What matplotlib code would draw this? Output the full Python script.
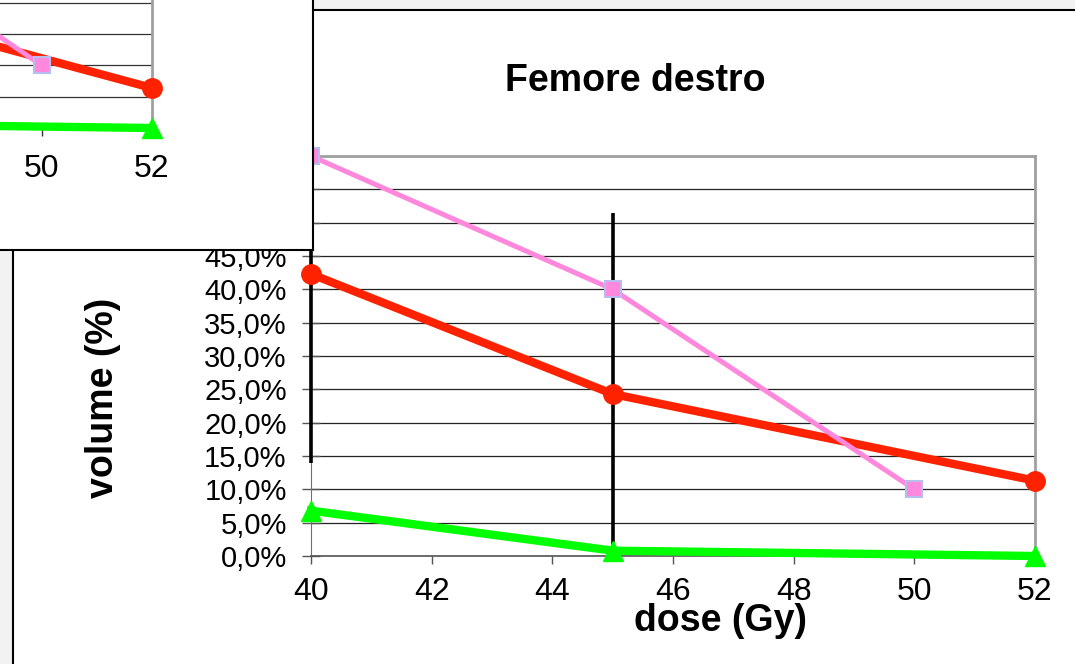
import matplotlib.pyplot as plt
from matplotlib.patches import Rectangle
from matplotlib.lines import Line2D
from matplotlib.ticker import FuncFormatter, MultipleLocator

plt.rcParams['font.family'] = ['Liberation Sans', 'DejaVu Sans']

# main chart: Femore destro
dose_red = [40, 45, 52]
vol_red = [42.3, 24.3, 11.3]
dose_pink = [40, 45, 50]
vol_pink = [60.0, 40.0, 10.0]
dose_green = [40, 45, 52]
vol_green = [6.8, 0.8, 0.0]
# vertical bars drawn in the plot
bar_x = [40, 45]
bar_low = [14.0, 0.0]
bar_high = [60.0, 51.5]

# overlapping piece of the other chart (top left)
inset_dose_red = [45, 52]
inset_vol_red = [23.0, 6.4]
inset_dose_pink = [45, 50]
inset_vol_pink = [40.0, 10.0]
inset_dose_green = [45, 52]
inset_vol_green = [0.8, 0.0]

W, H = 1075, 664
RED = '#ff2200'
PINK = '#ff88dd'
PINK_EDGE = '#b8bdf0'
GREEN = '#00ff00'


def box(x0, y0, x1, y1):
    # pixel box (top-left origin) -> figure fraction rect
    return [x0 / W, 1 - y1 / H, (x1 - x0) / W, (y1 - y0) / H]


def pct(v, pos):
    return f'{v:.1f}%'.replace('.', ',')


def draw_series(a, dg, vg, dr, vr, dp, vp):
    a.plot(dg, vg, '-^', color=GREEN, lw=6, ms=15, clip_on=False, zorder=4)
    a.plot(dr, vr, '-o', color=RED, lw=6, ms=14, clip_on=False, zorder=5)
    a.plot(dp, vp, '-s', color=PINK, lw=3.6, ms=12, mfc=PINK,
           mec=PINK_EDGE, mew=1.5, clip_on=False, zorder=6)


fig = plt.figure(figsize=(W / 100, H / 100), dpi=100)

ax = fig.add_axes(box(311, 156, 1035, 556))
ax.set_xlim(40, 52)
ax.set_ylim(0, 60)
ax.xaxis.set_major_locator(MultipleLocator(2))
ax.yaxis.set_major_locator(MultipleLocator(5))
ax.yaxis.set_major_formatter(FuncFormatter(pct))
ax.grid(axis='y', color='#222222', lw=0.9)
ax.set_axisbelow(True)
ax.tick_params(axis='y', direction='inout', length=13, width=1, color='#555555',
               labelsize=21, pad=11)
ax.tick_params(axis='x', direction='out', length=6, width=1, color='#555555',
               labelsize=23, pad=9)
for side in ['top', 'right']:
    ax.spines[side].set_color('#a0a0a0')
    ax.spines[side].set_linewidth(2)
ax.spines['left'].set_color('#707070')
ax.spines['bottom'].set_color('#555555')
ax.spines['bottom'].set_linewidth(1.2)

ax.vlines(bar_x, bar_low, bar_high, color='black', lw=2.6, zorder=3, clip_on=False)
draw_series(ax, dose_green, vol_green, dose_red, vol_red, dose_pink, vol_pink)

fig.text(635 / W, 1 - 81 / H, 'Femore destro', ha='center', va='center',
         fontsize=27, fontweight='bold')
fig.text(103 / W, 1 - 398 / H, 'volume (%)', ha='center', va='center',
         rotation=90, fontsize=27, fontweight='bold')
fig.text(721 / W, 1 - 621 / H, 'dose (Gy)', ha='center', va='center',
         fontsize=27, fontweight='bold', zorder=10)

# window edges around the chart
fig.add_artist(Rectangle((313 / W, 1 - 10 / H), 1, 10 / H, transform=fig.transFigure,
                         facecolor='#f2f2f2', edgecolor='none', zorder=4))
fig.add_artist(Line2D([313 / W, 1], [1 - 10 / H] * 2, color='black', lw=1.5, zorder=4))
fig.add_artist(Rectangle((0, 0), 13 / W, 1 - 250 / H, transform=fig.transFigure,
                         facecolor='#f2f2f2', edgecolor='none', zorder=4))
fig.add_artist(Line2D([13 / W] * 2, [0, 1 - 250 / H], color='black', lw=1.5, zorder=4))

# white panel of the overlapping chart
fig.add_artist(Rectangle((0, 1 - 250 / H), 313 / W, 250 / H, transform=fig.transFigure,
                         facecolor='white', edgecolor='none', zorder=5))
fig.add_artist(Line2D([313 / W] * 2, [1 - 250 / H, 1], color='black', lw=1.5, zorder=5))
fig.add_artist(Line2D([0, 313 / W], [1 - 250 / H] * 2, color='black', lw=1.5, zorder=5))

ins = fig.add_axes(box(0, 0, 151.7, 128), zorder=6)
ins.patch.set_visible(False)
ins.set_xlim(50 - 41.7 / 55, 52)
ins.set_ylim(0, 128 / 6.26)
ins.set_xticks([50, 52])
ins.set_yticks([5, 10, 15, 20])
ins.grid(axis='y', color='#333333', lw=0.9)
ins.set_axisbelow(True)
ins.tick_params(axis='y', left=False, labelleft=False)
ins.tick_params(axis='x', direction='out', length=6, width=1, color='#333333',
                labelsize=23, pad=13)
for side in ['top', 'left', 'bottom']:
    ins.spines[side].set_visible(False)
ins.spines['right'].set_color('#a0a0a0')
ins.spines['right'].set_linewidth(2)
draw_series(ins, inset_dose_green, inset_vol_green, inset_dose_red, inset_vol_red,
            inset_dose_pink, inset_vol_pink)

fig.savefig('out.png', dpi=100)
